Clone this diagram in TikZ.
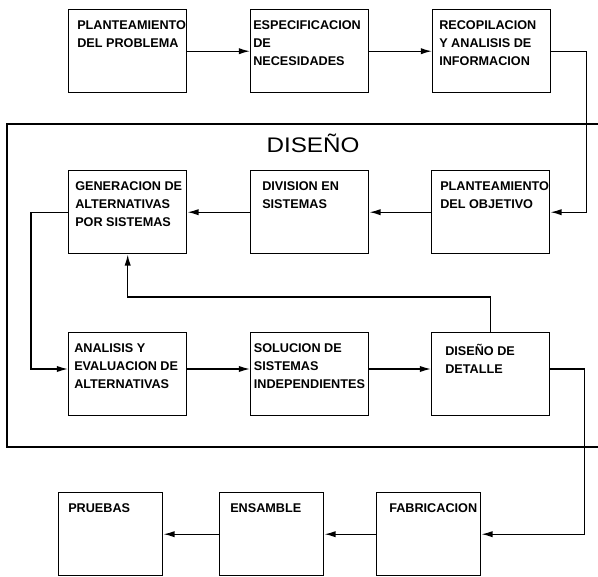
\documentclass[tikz,border=0pt]{standalone}
\usepackage{fontspec}
\setmainfont{Liberation Sans}
\newfontfamily\titlefont[FakeStretch=1.15]{Liberation Sans}
\usetikzlibrary{arrows.meta}

\tikzset{
  box/.style={draw, line width=1pt, anchor=north west, inner sep=0pt,
    minimum width=29.5mm, minimum height=20.75mm},
  smallbox/.style={box, minimum width=26mm},
  boxtext/.style={anchor=north west, align=left, inner sep=0pt, yshift=-2.9mm,
    font=\bfseries\fontsize{9}{12.75}\selectfont},
  flow/.style={line width=1pt, -{Latex[length=8pt,width=4.5pt]}},
  frame/.style={line width=1pt},
}

\begin{document}
\begin{tikzpicture}[x=0.25mm, y=-0.25mm]
	\useasboundingbox (0,0) rectangle (598,576);

	% marco del diseno
	\draw[frame] (598,124) -- (7,124) -- (7,447) -- (598,447);
	\node[anchor=base, inner sep=0pt, font=\titlefont\fontsize{15}{18}\selectfont] (diseno) at (313,152) {DISEÑO};

	\node[box] (plantprob) at (68,9) [label={[boxtext, xshift=2.25mm]north west:{PLANTEAMIENTO\\DEL PROBLEMA}}] {};
	\node[box] (especif) at (250,9) [label={[boxtext, xshift=0.75mm]north west:{ESPECIFICACION\\DE\\NECESIDADES}}] {};
	\node[box] (recop) at (432,9) [label={[boxtext, xshift=1.75mm]north west:{RECOPILACION\\Y ANALISIS DE\\INFORMACION}}] {};

	\node[box] (generacion) at (68,170) [label={[boxtext, xshift=1.75mm]north west:{GENERACION DE\\ALTERNATIVAS\\POR SISTEMAS}}] {};
	\node[box] (division) at (250,170) [label={[boxtext, xshift=3mm]north west:{DIVISION EN\\SISTEMAS}}] {};
	\node[box] (plantobj) at (431,170) [label={[boxtext, xshift=2.25mm]north west:{PLANTEAMIENTO\\DEL OBJETIVO}}] {};

	\node[box] (analisis) at (68,332) [label={[boxtext, xshift=1.5mm]north west:{ANALISIS Y\\EVALUACION DE\\ALTERNATIVAS}}] {};
	\node[box] (solucion) at (250,332) [label={[boxtext, xshift=0.9mm]north west:{SOLUCION DE\\SISTEMAS\\INDEPENDIENTES}}] {};
	\node[box] (detalle) at (431,332) [label={[boxtext, xshift=3.5mm]north west:{DISEÑO DE\\DETALLE}}] {};

	\node[smallbox] (pruebas) at (58,492) [label={[boxtext, xshift=2.5mm]north west:{PRUEBAS}}] {};
	\node[smallbox] (ensamble) at (219,492) [label={[boxtext, xshift=2.75mm]north west:{ENSAMBLE}}] {};
	\node[smallbox] (fabric) at (376,492) [label={[boxtext, xshift=3.25mm]north west:{FABRICACION}}] {};

	% flujo
	\draw[flow] (plantprob.east) -- (especif.west);
	\draw[flow] (especif.east) -- (recop.west);
	\draw[flow] (recop.east) -- ++(35,0) |- (plantobj.east);
	\draw[flow] (plantobj.west) -- (division.east);
	\draw[flow] (division.west) -- (generacion.east);
	\draw[flow] (generacion.west) -- ++(-37,0) |- ([yshift=1.3mm]analisis.west);
	\draw[flow] ([yshift=1.3mm]analisis.east) -- ([yshift=1.3mm]solucion.west);
	\draw[flow] ([yshift=1.3mm]solucion.east) -- ([yshift=1.3mm]detalle.west);
	\draw[flow] (detalle.north) -- ++(0,-35) -| (generacion.south);
	\draw[flow] ([yshift=1.3mm]detalle.east) -- ++(34,0) |- (fabric.east);
	\draw[flow] (fabric.west) -- (ensamble.east);
	\draw[flow] (ensamble.west) -- (pruebas.east);
\end{tikzpicture}
\end{document}
